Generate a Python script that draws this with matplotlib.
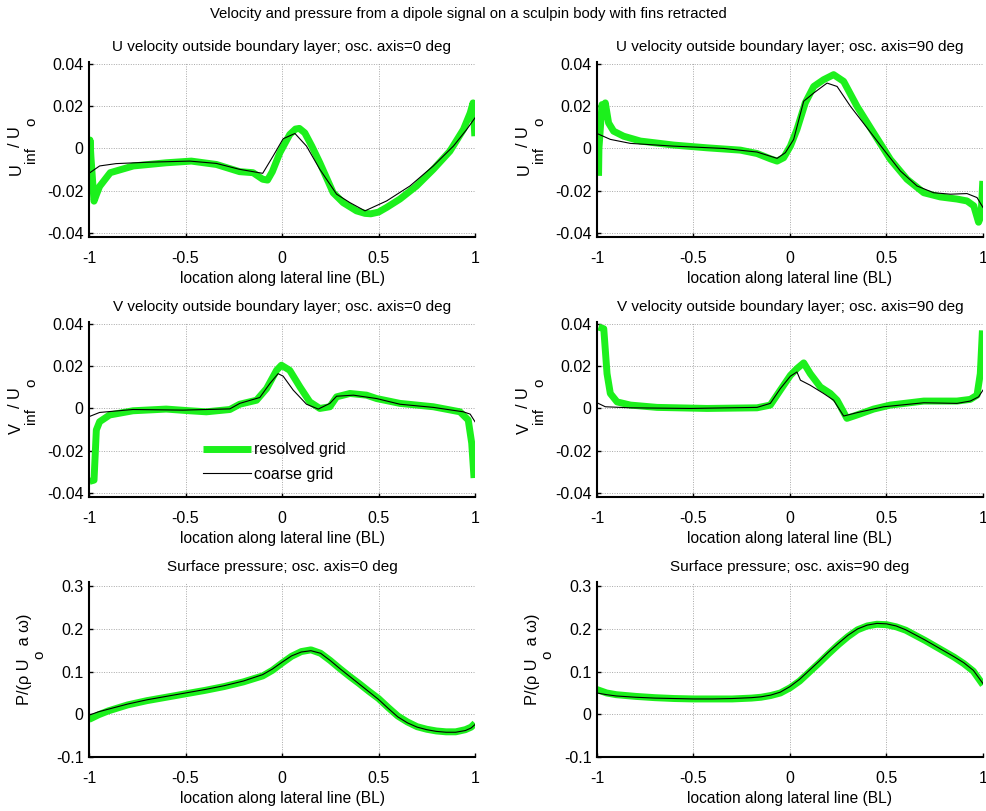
"""Dipole signal on a sculpin body: U, V velocity and surface pressure, two grids."""
import matplotlib
matplotlib.use("Agg")
import matplotlib.pyplot as plt
from matplotlib.transforms import IdentityTransform

plt.rcParams["font.family"] = ["Liberation Sans", "DejaVu Sans"]

GREEN = "#1cf01c"

# ---- U velocity, osc. axis = 0 deg ----
u0_fine_x = [-0.997, -0.995, -0.99, -0.974, -0.962, -0.945, -0.89, -0.77, -0.6, -0.47, -0.34, -0.22,
             -0.15, -0.1, -0.075, -0.05, -0.011, 0.04, 0.07, 0.09, 0.118, 0.155, 0.196, 0.265, 0.317,
             0.386, 0.43, 0.46, 0.5, 0.542, 0.611, 0.697, 0.784, 0.87, 0.94, 0.975, 0.99, 0.999]
u0_fine_y = [-0.007, 0.004, -0.004, -0.025, -0.022, -0.018, -0.0115, -0.0083, -0.0068, -0.006,
             -0.0076, -0.011, -0.0115, -0.0146, -0.015, -0.011, -0.002, 0.0066, 0.0092, 0.0095,
             0.0074, 0.001, -0.0068, -0.021, -0.0257, -0.0296, -0.0308, -0.031, -0.0302, -0.028,
             -0.024, -0.0178, -0.0099, -0.0013, 0.009, 0.0168, 0.0216, 0.0058]
u0_coarse_x = [-1.0, -0.945, -0.86, -0.685, -0.478, -0.34, -0.22, -0.1, -0.046, 0.006, 0.067, 0.127,
               0.196, 0.283, 0.352, 0.43, 0.542, 0.663, 0.784, 0.888, 0.957, 1.0]
u0_coarse_y = [-0.0118, -0.0083, -0.0072, -0.0065, -0.006, -0.0071, -0.0099, -0.0118, -0.0036,
               0.0046, 0.0071, 0.0011, -0.0099, -0.0217, -0.0257, -0.0296, -0.0249, -0.0178,
               -0.0083, 0.0011, 0.009, 0.0145]

# ---- U velocity, osc. axis = 90 deg ----
u90_fine_x = [-0.992, -0.99, -0.974, -0.966, -0.957, -0.94, -0.914, -0.862, -0.775, -0.603, -0.43,
              -0.257, -0.171, -0.102, -0.067, -0.033, 0.002, 0.036, 0.079, 0.123, 0.174, 0.226,
              0.278, 0.347, 0.433, 0.52, 0.606, 0.693, 0.779, 0.865, 0.917, 0.952, 0.977, 0.99, 0.999]
u90_fine_y = [-0.013, 0.0, 0.0208, 0.0153, 0.0216, 0.0121, 0.0082, 0.0058, 0.0035, 0.0016, 0.0003,
              -0.0008, -0.0024, -0.0049, -0.006, -0.0044, 0.0011, 0.009, 0.0216, 0.0294, 0.0326,
              0.035, 0.0318, 0.02, 0.0074, -0.0052, -0.0146, -0.021, -0.023, -0.024, -0.0249,
              -0.0272, -0.035, -0.032, -0.0154]
u90_coarse_x = [-1.0, -0.931, -0.827, -0.603, -0.344, -0.171, -0.067, -0.024, 0.019, 0.071, 0.123,
                0.192, 0.244, 0.313, 0.399, 0.485, 0.572, 0.658, 0.744, 0.831, 0.917, 0.969, 1.0]
u90_coarse_y = [0.0071, 0.0043, 0.0024, 0.0011, 0.0, -0.0017, -0.0047, -0.002, 0.0043, 0.0224,
                0.0263, 0.031, 0.0294, 0.02, 0.0098, -0.0005, -0.0107, -0.0178, -0.021, -0.0217,
                -0.0214, -0.0233, -0.028]

# ---- V velocity, osc. axis = 0 deg ----
v0_fine_x = [-0.997, -0.974, -0.962, -0.945, -0.893, -0.772, -0.6, -0.478, -0.392, -0.27, -0.219,
             -0.132, -0.08, -0.028, -0.003, 0.04, 0.093, 0.144, 0.196, 0.248, 0.283, 0.352, 0.438,
             0.49, 0.611, 0.784, 0.922, 0.965, 0.983, 0.995]
v0_fine_y = [-0.0346, -0.034, -0.0102, -0.0063, -0.0031, -0.0011, -0.0003, -0.0011, -0.0016,
             -0.0005, 0.002, 0.0039, 0.0094, 0.0181, 0.0205, 0.0181, 0.0102, 0.0031, 0.0, 0.0008,
             0.0055, 0.0071, 0.0063, 0.0047, 0.0024, 0.0008, -0.0016, -0.0055, -0.0165, -0.033]
v0_coarse_x = [-1.0, -0.945, -0.772, -0.513, -0.27, -0.219, -0.115, -0.063, -0.02, 0.006, 0.058,
               0.127, 0.188, 0.248, 0.283, 0.37, 0.49, 0.611, 0.784, 0.94, 0.975, 1.0]
v0_coarse_y = [-0.0039, -0.0019, -0.0005, -0.0008, -0.0002, 0.0024, 0.0052, 0.0118, 0.0165,
               0.0153, 0.0087, 0.002, -0.0003, 0.0024, 0.0058, 0.0063, 0.0047, 0.002, 0.0005,
               -0.0016, -0.0027, -0.0063]

# ---- V velocity, osc. axis = 90 deg ----
v90_fine_x = [-0.992, -0.965, -0.948, -0.931, -0.896, -0.827, -0.689, -0.43, -0.171, -0.102, -0.05,
              0.002, 0.036, 0.071, 0.105, 0.157, 0.209, 0.244, 0.295, 0.347, 0.433, 0.52, 0.693,
              0.865, 0.934, 0.969, 0.986, 0.997]
v90_fine_y = [0.0386, 0.0378, 0.0165, 0.0071, 0.0031, 0.0016, 0.0005, 0.0, 0.0003, 0.0016, 0.0087,
              0.0157, 0.0189, 0.0216, 0.0165, 0.0102, 0.0071, 0.0039, -0.0047, -0.0031, -0.0003,
              0.0016, 0.0035, 0.0035, 0.0043, 0.0063, 0.0165, 0.037]
v90_coarse_x = [-1.0, -0.957, -0.827, -0.516, -0.171, -0.102, -0.05, 0.002, 0.036, 0.054, 0.105,
                0.174, 0.226, 0.278, 0.347, 0.485, 0.693, 0.865, 0.934, 0.977, 1.0]
v90_coarse_y = [0.0027, 0.0008, 0.0003, 0.0, 0.0005, 0.0024, 0.0094, 0.0153, 0.0173, 0.0134,
                0.011, 0.0071, 0.0039, -0.0036, -0.002, 0.0008, 0.0027, 0.0024, 0.0035, 0.0055,
                0.0087]

# ---- Surface pressure, osc. axis = 0 deg ----
p0_x = [-1.0, -0.95, -0.9, -0.8, -0.7, -0.6, -0.5, -0.4, -0.3, -0.2, -0.1, -0.05, 0.0, 0.05, 0.1,
        0.15, 0.2, 0.25, 0.3, 0.35, 0.4, 0.45, 0.5, 0.55, 0.6, 0.65, 0.7, 0.75, 0.8, 0.85, 0.9,
        0.95, 0.98, 1.0]
p0_fine_y = [-0.012, -0.001, 0.008, 0.022, 0.032, 0.040, 0.048, 0.056, 0.065, 0.076, 0.09, 0.103,
             0.12, 0.136, 0.147, 0.151, 0.143, 0.126, 0.107, 0.089, 0.072, 0.054, 0.037, 0.016,
             -0.004, -0.018, -0.029, -0.035, -0.039, -0.041, -0.041, -0.036, -0.03, -0.021]
p0_coarse_y = [-0.002, 0.006, 0.012, 0.024, 0.034, 0.042, 0.05, 0.058, 0.067, 0.078, 0.093, 0.106,
               0.122, 0.137, 0.146, 0.149, 0.143, 0.126, 0.107, 0.089, 0.071, 0.053, 0.035, 0.014,
               -0.006, -0.02, -0.03, -0.036, -0.04, -0.042, -0.042, -0.038, -0.032, -0.024]

# ---- Surface pressure, osc. axis = 90 deg ----
p90_x = [-1.0, -0.95, -0.9, -0.8, -0.7, -0.6, -0.5, -0.4, -0.3, -0.2, -0.15, -0.1, -0.05, 0.0, 0.05,
         0.1, 0.15, 0.2, 0.25, 0.3, 0.35, 0.4, 0.45, 0.5, 0.55, 0.6, 0.65, 0.7, 0.75, 0.8, 0.85,
         0.9, 0.95, 1.0]
p90_fine_y = [0.058, 0.05, 0.046, 0.042, 0.039, 0.037, 0.036, 0.036, 0.036, 0.038, 0.04, 0.044,
              0.05, 0.062, 0.078, 0.099, 0.12, 0.142, 0.163, 0.182, 0.198, 0.207, 0.211, 0.21,
              0.205, 0.197, 0.185, 0.173, 0.16, 0.147, 0.134, 0.119, 0.101, 0.069]
p90_coarse_y = [0.05, 0.046, 0.043, 0.04, 0.038, 0.037, 0.036, 0.036, 0.037, 0.039, 0.041, 0.045,
                0.052, 0.065, 0.082, 0.103, 0.124, 0.146, 0.166, 0.185, 0.2, 0.209, 0.213, 0.212,
                0.207, 0.198, 0.186, 0.174, 0.161, 0.148, 0.135, 0.121, 0.103, 0.072]

titles = ["U velocity outside boundary layer; osc. axis=0 deg",
          "U velocity outside boundary layer; osc. axis=90 deg",
          "V velocity outside boundary layer; osc. axis=0 deg",
          "V velocity outside boundary layer; osc. axis=90 deg",
          "Surface pressure; osc. axis=0 deg",
          "Surface pressure; osc. axis=90 deg"]
# y labels as (text, is_subscript) pieces, read bottom to top
ylabels = [[("U", False), ("inf", True), ("/ U", False), ("o", True)]] * 2 + \
          [[("V", False), ("inf", True), ("/ U", False), ("o", True)]] * 2 + \
          [[("P/(\u03c1 U", False), ("o", True), (" a \u03c9)", False)]] * 2
series = [(u0_fine_x, u0_fine_y, u0_coarse_x, u0_coarse_y),
          (u90_fine_x, u90_fine_y, u90_coarse_x, u90_coarse_y),
          (v0_fine_x, v0_fine_y, v0_coarse_x, v0_coarse_y),
          (v90_fine_x, v90_fine_y, v90_coarse_x, v90_coarse_y),
          (p0_x, p0_fine_y, p0_x, p0_coarse_y),
          (p90_x, p90_fine_y, p90_x, p90_coarse_y)]

W, H = 987, 811
fig = plt.figure(figsize=(W / 100, H / 100), dpi=100)
renderer = fig.canvas.get_renderer()
lefts = [89, 597]
bottoms = [237, 497, 757]
aw, ah = 386, 175


def stacked_ylabel(pieces, x_main, x_sub, y_center, size=11.8):
    """MATLAB-like rotated label with big lowered subscripts (display pixels)."""
    texts = []
    for s, sub in pieces:
        t = fig.text(x_sub if sub else x_main, 0, s, rotation=90, fontsize=size * (0.92 if sub else 1),
                     ha="center", va="bottom", transform=IdentityTransform())
        texts.append(t)
    heights = [t.get_window_extent(renderer).height for t in texts]
    y = y_center - sum(heights) / 2
    for t, h in zip(texts, heights):
        t.set_y(y)
        y += h


for i, (fx, fy, cx, cy) in enumerate(series):
    row, col = divmod(i, 2)
    ax = fig.add_axes([lefts[col] / W, 1 - bottoms[row] / H, aw / W, ah / H])
    ax.plot(fx, fy, color=GREEN, linewidth=5, solid_capstyle="butt",
            solid_joinstyle="round", label="resolved grid")
    ax.plot(cx, cy, color="black", linewidth=0.8, label="coarse grid")
    ax.set_xlim(-1, 1)
    if row < 2:
        ax.set_ylim(-0.042, 0.041)
        ax.set_yticks([-0.04, -0.02, 0, 0.02, 0.04])
        ax.set_yticklabels(["-0.04", "-0.02", "0", "0.02", "0.04"])
    else:
        ax.set_ylim(-0.1, 0.31)
        ax.set_yticks([-0.1, 0, 0.1, 0.2, 0.3])
        ax.set_yticklabels(["-0.1", "0", "0.1", "0.2", "0.3"])
    ax.set_xticks([-1, -0.5, 0, 0.5, 1])
    ax.set_xticklabels(["-1", "-0.5", "0", "0.5", "1"])
    ax.grid(True, linestyle=(0, (1, 1.5)), color="#a8a8a8", linewidth=0.7)
    for s in ("top", "right"):
        ax.spines[s].set_visible(False)
    for s in ("left", "bottom"):
        ax.spines[s].set_linewidth(1.5)
    ax.tick_params(direction="in", length=3, width=1, labelsize=11.5, pad=4)
    ax.tick_params(axis="x", pad=10)
    ax.set_title(titles[i], fontsize=11, pad=8)
    ax.set_xlabel("location along lateral line (BL)", fontsize=11.2, labelpad=4)

    left_px = lefts[col]
    if row < 2:
        xm, xs, dy = left_px - 73, left_px - 58, 3
    else:
        xm, xs, dy = left_px - 64, left_px - 50, 10
    yc = H - (bottoms[row] - ah / 2) + dy
    stacked_ylabel(ylabels[i], xm, xs, yc)

    if i == 2:
        ax.legend(loc="upper left", bbox_to_anchor=(0.278, 0.35), frameon=False,
                  fontsize=11.5, handlelength=3.0, handletextpad=0.2, labelspacing=0.6,
                  borderaxespad=0)

fig.text(468 / W, 1 - 14 / H, "Velocity and pressure from a dipole signal on a sculpin body with fins retracted",
         ha="center", va="center", fontsize=10.7)

fig.savefig("out.png", dpi=100)
